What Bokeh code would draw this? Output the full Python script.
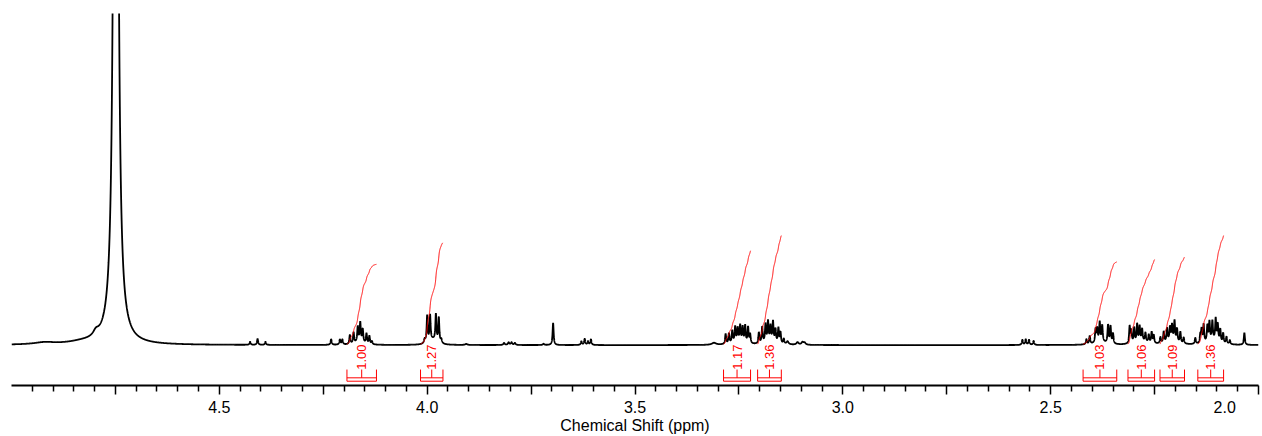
import numpy as np
from bokeh.plotting import figure
from bokeh.models import Range1d, FixedTicker
from bokeh.embed import file_html
from bokeh.resources import INLINE
from bokeh.core.properties import value

# ---------------- data ----------------
# peaks: (chemical shift ppm, height above baseline, half width ppm)
peaks_water = [(4.749, 1500, 0.0042), (4.797, 5, 0.008), (4.83, 2, 0.04), (4.92, 2, 0.03)]
peaks_442 = [(4.426, 3, 0.0015), (4.408, 6, 0.0015), (4.389, 3, 0.0015)]
peaks_416 = [(4.231, 5.5, 0.0016), (4.210, 5, 0.0016), (4.204, 5, 0.0016),
             (4.186, 9, 0.0015), (4.177, 11, 0.0015), (4.167, 15, 0.0015), (4.161, 19, 0.0015),
             (4.155, 13, 0.0015), (4.146, 10, 0.0015), (4.139, 8, 0.0015), (4.133, 3, 0.0015),
             (4.163, 3, 0.012)]
peaks_399 = [(4.000, 27, 0.0015), (3.993, 26, 0.0015), (3.979, 27, 0.0015), (3.972, 25, 0.0015),
             (3.986, 5, 0.010), (4.006, 4, 0.002), (3.966, 4, 0.002), (3.906, 1, 0.003)]
peaks_380 = [(3.815, 2, 0.002), (3.804, 2.5, 0.002), (3.797, 2.5, 0.002), (3.789, 2, 0.002),
             (3.720, 1.2, 0.002), (3.697, 22, 0.0015),
             (3.629, 3.5, 0.0016), (3.621, 6, 0.0016), (3.613, 3.5, 0.0016), (3.606, 5.5, 0.0016)]
peaks_325 = [(3.31, 2, 0.006),
             (3.282, 10, 0.0015), (3.274, 10, 0.0015), (3.266, 12, 0.0015), (3.259, 15, 0.0015),
             (3.253, 13, 0.0015), (3.247, 16, 0.0015), (3.241, 15, 0.0015), (3.235, 17, 0.0015),
             (3.228, 16, 0.0015), (3.223, 9, 0.0015), (3.252, 3, 0.015)]
peaks_317 = [(3.202, 11, 0.0015), (3.194, 16, 0.0015), (3.186, 18, 0.0015), (3.180, 20, 0.0015),
             (3.174, 15, 0.0015), (3.168, 20, 0.0015), (3.162, 13, 0.0015), (3.155, 15, 0.0015),
             (3.150, 11, 0.0015), (3.142, 5, 0.0015), (3.133, 3, 0.003), (3.175, 3, 0.015),
             (3.109, 2.5, 0.003), (3.097, 2.5, 0.003), (3.092, 2, 0.003)]
peaks_256 = [(2.568, 5, 0.0016), (2.560, 5.5, 0.0016), (2.552, 5, 0.0016), (2.541, 4, 0.0016)]
peaks_238 = [(2.414, 5, 0.0015), (2.406, 8, 0.0015), (2.392, 13, 0.0015), (2.388, 13, 0.0015),
             (2.382, 19, 0.0015), (2.376, 16, 0.0015), (2.362, 18, 0.0015), (2.356, 17, 0.0015),
             (2.350, 10, 0.0015), (2.38, 3, 0.015)]
peaks_228 = [(2.310, 17, 0.0015), (2.306, 12, 0.0015), (2.299, 15, 0.0015), (2.292, 18, 0.0015),
             (2.286, 15, 0.0015), (2.280, 12, 0.0015), (2.272, 9, 0.0015), (2.264, 8, 0.0015),
             (2.257, 11, 0.0015), (2.252, 8, 0.0015), (2.28, 3, 0.015)]
peaks_221 = [(2.236, 6, 0.0015), (2.228, 11, 0.0015), (2.220, 13, 0.0015), (2.213, 13, 0.0015),
             (2.208, 15, 0.0015), (2.202, 20, 0.0015), (2.196, 13, 0.0015), (2.188, 11, 0.0015),
             (2.180, 6, 0.0015), (2.21, 4, 0.015), (2.152, 6, 0.0015)]
peaks_211 = [(2.140, 8, 0.0015), (2.137, 13, 0.0015), (2.132, 18, 0.0015), (2.123, 16, 0.0015),
             (2.118, 19, 0.0015), (2.111, 19, 0.0015), (2.103, 22, 0.0015), (2.098, 17, 0.0015),
             (2.092, 13, 0.0015), (2.085, 10, 0.0015), (2.077, 7, 0.0015), (2.069, 4, 0.0015),
             (2.11, 4, 0.015), (2.034, 12, 0.0015)]

integral_values = [1.00, 1.27, 1.17, 1.36, 1.03, 1.06, 1.09, 1.36]
integral_labels = ["1.00", "1.27", "1.17", "1.36", "1.03", "1.06", "1.09", "1.36"]
integral_from = [4.193, 4.016, 3.287, 3.205, 2.422, 2.314, 2.237, 2.146]
integral_to = [4.122, 3.962, 3.222, 3.148, 2.341, 2.250, 2.178, 2.084]

major_ticks = [4.75, 4.5, 4.25, 4.0, 3.75, 3.5, 3.25, 3.0, 2.75, 2.5, 2.25, 2.0]
tick_labels = {4.5: "4.5", 4.0: "4.0", 3.5: "3.5", 3.0: "3.0", 2.5: "2.5", 2.0: "2.0"}
x_title = "Chemical Shift (ppm)"

# ---------------- build the spectrum ----------------
all_peaks = (peaks_water + peaks_442 + peaks_416 + peaks_399 + peaks_380 + peaks_325 +
             peaks_317 + peaks_256 + peaks_238 + peaks_228 + peaks_221 + peaks_211)
ppm = np.linspace(5.0, 2.0, 18001)
intensity = np.zeros_like(ppm)
for c, h, w in all_peaks:
    intensity += h * w * w / ((ppm - c) ** 2 + w * w)

UNIT = 80.0     # integral curve rise per unit integral
BASE = 1.0
int_xs, int_ys = [], []
for a, b, v in zip(integral_from, integral_to, integral_values):
    m = (ppm <= a) & (ppm >= b)
    seg = intensity[m]
    cum = np.concatenate([[0.0], np.cumsum((seg[1:] + seg[:-1]) / 2.0)])
    cum = cum / cum[-1] * v * UNIT + BASE
    int_xs.append(ppm[m])
    int_ys.append(cum)

# brackets under each integral
TOP, INNER, OUTER = -24.5, -32.8, -36.2
br_xs, br_ys = [], []
for a, b in zip(integral_from, integral_to):
    mid = (a + b) / 2
    br_xs += [[a, a, b, b], [a, b], [mid, mid]]
    br_ys += [[TOP, OUTER, OUTER, TOP], [INNER, INNER], [TOP, INNER]]
lbl_x = [(a + b) / 2 for a, b in zip(integral_from, integral_to)]

# ---------------- figure ----------------
p = figure(width=1262, height=436, x_range=Range1d(5.0, 2.0), y_range=Range1d(-40.5, 332.5),
           output_backend="svg", toolbar_location=None, y_axis_location=None,
           min_border_left=11, min_border_right=4, min_border_top=13, min_border_bottom=50)
p.grid.visible = False
p.outline_line_color = None

p.line(ppm, intensity, line_color="black", line_width=1.8)
p.multi_line(int_xs, int_ys, line_color="#ff0000", line_width=1)
p.multi_line(br_xs, br_ys, line_color="#ff0000", line_width=1)
p.text(x=lbl_x, y=[-12] * len(lbl_x), text=integral_labels, angle=np.pi / 2,
       text_align="center", text_baseline="middle", text_color="#ff0000",
       text_font=value("Liberation Sans"), text_font_size="13px")

ax = p.xaxis[0]
minor = [round(5.0 - 0.05 * i, 2) for i in range(1, 60)]
minor = [t for t in minor if all(abs(t - m) > 1e-6 for m in major_ticks)]
ax.ticker = FixedTicker(ticks=major_ticks, minor_ticks=minor)
overrides = {t: tick_labels.get(t, "") for t in major_ticks}
overrides[2.0] = tick_labels[2.0] + "\u2007" * 3   # keep the last label inside the canvas
ax.major_label_overrides = overrides
ax.axis_line_width = 2
ax.axis_line_color = "black"
ax.major_tick_line_color = "black"
ax.minor_tick_line_color = "black"
ax.major_tick_line_width = 1.5
ax.minor_tick_line_width = 1.5
ax.major_tick_out = 9
ax.major_tick_in = 0
ax.minor_tick_out = 6
ax.minor_tick_in = 0
ax.major_label_standoff = 4
ax.major_label_text_font = "Liberation Sans"
ax.major_label_text_font_size = "16px"
ax.major_label_text_color = "black"
ax.axis_label = x_title
ax.axis_label_text_font = "Liberation Sans"
ax.axis_label_text_font_size = "16px"
ax.axis_label_text_font_style = "normal"
ax.axis_label_text_color = "black"
ax.axis_label_standoff = -2

open("out.html", "w").write(file_html(p, INLINE))
